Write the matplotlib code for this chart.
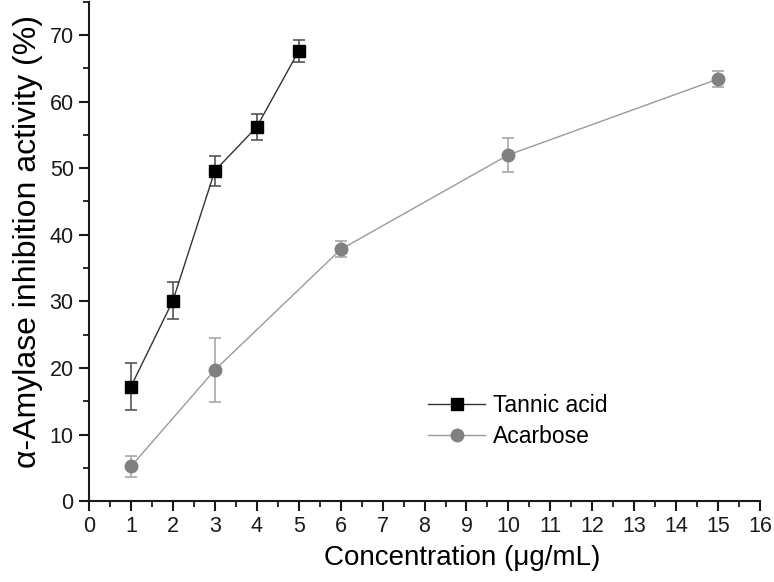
#!/usr/bin/env python
# -*- coding: utf-8 -*-
"""alpha-amylase inhibition: tannic acid vs acarbose"""
import matplotlib
matplotlib.use("Agg")
import matplotlib.pyplot as plt
from matplotlib.lines import Line2D
from matplotlib.ticker import MultipleLocator

# data
tannic_x = [1, 2, 3, 4, 5]
tannic_y = [17.2, 30.1, 49.6, 56.2, 67.6]
tannic_err = [3.5, 2.8, 2.3, 2.0, 1.6]

acarbose_x = [1, 3, 6, 10, 15]
acarbose_y = [5.2, 19.7, 37.8, 52.0, 63.4]
acarbose_err = [1.6, 4.8, 1.2, 2.5, 1.2]

plt.rcParams["font.family"] = ["Liberation Sans", "DejaVu Sans"]

fig = plt.figure(figsize=(7.74, 5.82), dpi=100)
ax = fig.add_axes([0.115, 0.139, 0.867, 0.858])

t_style = dict(color="#333333", lw=1.0, marker="s", ms=8, mfc="black", mec="black")
a_style = dict(color="#9a9a9a", lw=1.0, marker="o", ms=9, mfc="#808080", mec="#808080")

ax.errorbar(tannic_x, tannic_y, yerr=tannic_err, **t_style,
            ecolor="#555555", elinewidth=1.2, capsize=4, capthick=1.2)
ax.errorbar(acarbose_x, acarbose_y, yerr=acarbose_err, **a_style,
            ecolor="#a8a8a8", elinewidth=1.2, capsize=4, capthick=1.2)

ax.set_xlim(0, 16)
ax.set_ylim(0, 75)
ax.xaxis.set_major_locator(MultipleLocator(1))
ax.xaxis.set_minor_locator(MultipleLocator(0.5))
ax.yaxis.set_minor_locator(MultipleLocator(5))
ax.set_yticks(range(0, 71, 10))

for s in ("top", "right"):
    ax.spines[s].set_visible(False)
for s in ("left", "bottom"):
    ax.spines[s].set_linewidth(1.5)
    ax.spines[s].set_color("#1a1a1a")

ax.tick_params(which="major", direction="out", length=7, width=1.5, pad=4,
               colors="#1a1a1a", labelsize=15.5)
ax.tick_params(which="minor", direction="out", length=4, width=1.3, colors="#1a1a1a")

ax.set_xlabel("Concentration (μg/mL)", fontsize=20)
ax.xaxis.set_label_coords(0.556, -0.087)
ax.set_ylabel("α-Amylase inhibition activity (%)", fontsize=23)
ax.yaxis.set_label_coords(-0.068, 0.52)

handles = [Line2D([], [], **t_style), Line2D([], [], **a_style)]
ax.legend(handles, ["Tannic acid", "Acarbose"], loc="center left",
          bbox_to_anchor=(0.505, 0.161), frameon=False, fontsize=16.5,
          handlelength=2.5, handletextpad=0.35, labelspacing=0.35,
          borderaxespad=0, borderpad=0)

fig.savefig("out.png", dpi=100)
plt.close(fig)
